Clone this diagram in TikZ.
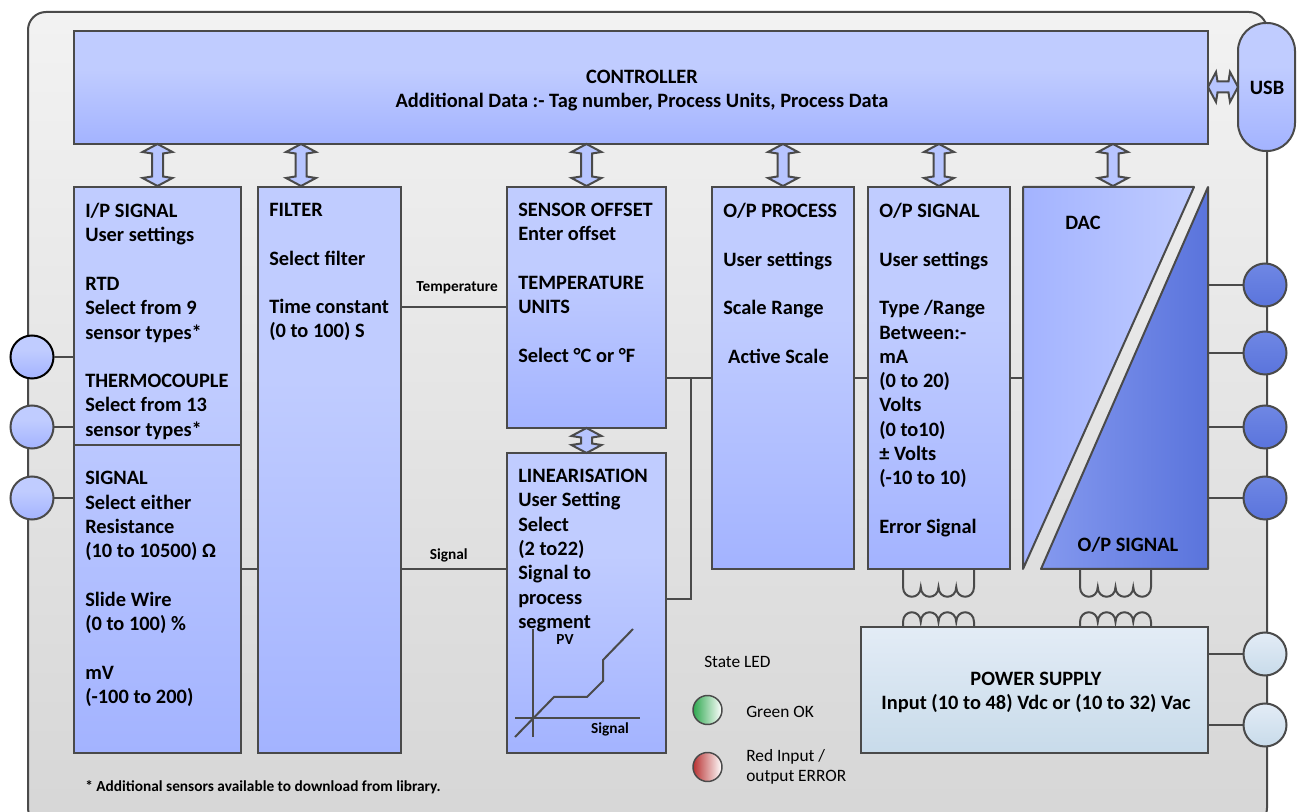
\documentclass[tikz,border=0pt]{standalone}
\usepackage{fontspec}
\setmainfont{Carlito}
\usetikzlibrary{positioning}
\definecolor{boxlo}{HTML}{A3B3FF}
\definecolor{boxhi}{HTML}{C0CCFF}
\definecolor{edge}{HTML}{4A4A4A}
\definecolor{darklo}{HTML}{5A74DC}
\definecolor{darkhi}{HTML}{6F87E4}
\definecolor{pwrhi}{HTML}{E3ECF6}
\definecolor{pwrlo}{HTML}{C8DBEA}
\definecolor{ledgreen}{HTML}{2EA84F}
\definecolor{ledred}{HTML}{B83232}
\pgfdeclareverticalshading{boxfade}{100bp}{color(0bp)=(boxlo); color(25bp)=(boxlo); color(58bp)=(boxhi); color(100bp)=(boxhi)}
\def\px{0.75pt}
\newcommand{\vlink}[2]{\draw[linkarrow] (#1) -- ++(15,8) -- ++(-9.5,1.5) -- ++(0,#2-19) -- ++(9.5,1.5) -- ++(-15,8) -- ++(-15,-8) -- ++(9.5,-1.5) -- ++(0,19-#2) -- ++(-9.5,-1.5) -- cycle;}
\newcommand{\hlink}[2]{\draw[linkarrow] (#1) -- ++(8,15) -- ++(1.5,-9.5) -- ++(#2-19,0) -- ++(1.5,9.5) -- ++(8,-15) -- ++(-8,-15) -- ++(-1.5,9.5) -- ++(19-#2,0) -- ++(-1.5,-9.5) -- cycle;}
\tikzset{
  x=\px, y=-\px,
  wire/.style={draw=edge, line width=1.5pt},
  box/.style={draw=edge, line width=1.5pt, shade, shading=boxfade, anchor=north west, inner sep=0pt, outer sep=0pt},
  sized/.style 2 args={minimum width=#1*\px, minimum height=#2*\px},
  boxtext/.style={font=\fontsize{15.3}{18.22}\selectfont\bfseries, align=left, inner sep=0pt, anchor=north west, text=black},
  smalltext/.style={font=\fontsize{11.5}{13}\selectfont\bfseries, inner sep=0pt, text=black},
  ledtext/.style={font=\fontsize{13}{15}\selectfont, align=left, inner sep=0pt, anchor=west, text=black},
  port/.style={circle, draw=edge, line width=1.5pt, shade, shading=boxfade, minimum size=43*\px, inner sep=0pt, outer sep=0pt},
  darkport/.style={port, shading=axis, top color=darkhi, bottom color=darklo},
  pwrport/.style={port, shading=axis, top color=pwrhi, bottom color=pwrlo},
  led/.style={circle, draw=edge, line width=1.1pt, minimum size=29*\px, inner sep=0pt, right color=white},
  linkarrow/.style={draw=edge, line width=1.5pt, fill=boxhi!70!boxlo, line join=miter},
  wedge/.style={draw=edge, line width=1.5pt, line join=round}
}
\begin{document}
\begin{tikzpicture}
  \useasboundingbox (0,0) rectangle (1297,812);
  \clip (0,0) rectangle (1297,812);
  \draw[draw=edge, line width=1.5pt, rounded corners=13.5pt, top color=black!5, bottom color=black!16] (28,12) rectangle (1267,826);

  % blocks
  \node[box, sized={1134}{113}] (ctrl) at (74,31) {};
  \node[box, sized={167}{566}] (ipsig) at (74,187) {};
  \node[box, sized={143}{566}] (filter) at (258,187) {};
  \node[box, sized={159}{241}] (offset) at (507,187) {};
  \node[box, sized={159}{300}] (linear) at (507,453) {};
  \node[box, sized={142}{382}] (process) at (712,187) {};
  \node[box, sized={142}{382}] (opsig) at (868,187) {};
  \node[box, sized={57}{128}, rounded corners=21pt, anchor=center] (usb) at (1266.5,87) {};
  \node[boxtext, anchor=center] (usbtxt) at (1267,88) {USB};
  \node[draw=edge, line width=1.5pt, anchor=north west, sized={347}{126}, inner sep=0pt, outer sep=0pt, top color=pwrhi, bottom color=pwrlo] (power) at (861,627) {};
  \draw[wire] (ipsig.west |- 0,445) -- (ipsig.east |- 0,445);

  % DAC and output wedge
  \coordinate (dacA) at (1023,187);
  \coordinate (dacB) at (1194,187);
  \coordinate (dacC) at (1023,569);
  \coordinate (outA) at (1208,187);
  \coordinate (outB) at (1208,569);
  \coordinate (outC) at (1041,569);
  \draw[wedge, left color=boxlo, right color=boxhi] (dacA) -- (dacB) -- (dacC) -- cycle;
  \draw[wedge, left color=darkhi!60!boxlo, right color=darklo] (outA) -- (outB) -- (outC) -- cycle;
  \node[boxtext, anchor=center] (dac) at (1083,223) {DAC};
  \node[boxtext, anchor=center] (outlbl) at (1128,545) {O/P SIGNAL};

  % block texts
  \node[boxtext, anchor=center, align=center] (ctrltxt) at (642,90.5) {CONTROLLER\\Additional Data :- Tag number, Process Units, Process Data};
  \node[boxtext, anchor=center, align=center] (powertxt) at (1036,692.5) {POWER SUPPLY\\Input (10 to 48) Vdc or (10 to 32) Vac};
  \node[boxtext] (ipsigtxt) at (85,203) {I/P SIGNAL\\User settings\\~\\RTD\\Select from 9\\sensor types*\\~\\THERMOCOUPLE\\Select from 13\\sensor types*\\~\\SIGNAL\\Select either\\Resistance\\(10 to 10500) Ω\\~\\Slide Wire\\(0 to 100) \%\\~\\mV\\(-100 to 200)};
  \node[boxtext] (filtertxt) at (269,203) {FILTER\\~\\Select filter\\~\\Time constant\\(0 to 100) S};
  \node[boxtext] (offsettxt) at (518,203) {SENSOR OFFSET\\Enter offset\\~\\TEMPERATURE\\UNITS\\~\\Select °C or °F};
  \node[boxtext] (lineartxt) at (518,469) {LINEARISATION\\User Setting\\Select\\(2 to22)\\Signal to\\process\\segment};
  \node[boxtext] (processtxt) at (723,203) {O/P PROCESS\\~\\User settings\\~\\Scale Range\\~\\\hspace{3.7pt}Active Scale};
  \node[boxtext] (opsigtxt) at (879,203) {O/P SIGNAL\\~\\User settings\\~\\Type /Range\\Between:-\\mA\\(0 to 20)\\Volts\\(0 to10)\\± Volts\\(-10 to 10)\\~\\Error Signal};

  % ports
  \node[port, draw=black] (inA) at (32,357) {};
  \node[port] (inB) at (32,427) {};
  \node[port] (inC) at (32,498) {};
  \node[darkport] (outPa) at (1265,285) {};
  \node[darkport] (outPb) at (1265,353) {};
  \node[darkport] (outPc) at (1265,427) {};
  \node[darkport] (outPd) at (1265,498) {};
  \node[pwrport] (pwrA) at (1265,654) {};
  \node[pwrport] (pwrB) at (1265,725) {};

  % connections
  \foreach \nm in {inA,inB,inC}
    \draw[wire] (\nm.east) -- (ipsig.west |- \nm);
  \foreach \nm in {outPa,outPb,outPc,outPd}
    \draw[wire] (outA |- \nm) -- (\nm.west);
  \foreach \nm in {pwrA,pwrB}
    \draw[wire] (power.east |- \nm) -- (\nm.west);
  \coordinate (jn) at (691,378);
  \coordinate (dacW) at (1023,378);
  \draw[wire] (ipsig.east |- 0,569) -- (filter.west |- 0,569);
  \draw[wire] (filter.east |- 0,307) -- node[smalltext, above=9pt, pos=.53] (templbl) {Temperature} (offset.west |- 0,307);
  \draw[wire] (filter.east |- 0,569) -- node[smalltext, above=4.5pt, pos=.45] (siglbl) {Signal} (linear.west |- 0,569);
  \draw[wire] (offset.east |- jn) -- (process.west |- jn);
  \draw[wire] (linear.east |- 0,599) -- (jn |- 0,599) -- (jn);
  \draw[wire] (process.east |- jn) -- (opsig.west |- jn);
  \draw[wire] (opsig.east |- jn) -- (dacW);

  % block arrows
  \coordinate (filterN) at (301,187);
  \coordinate (dacN) at (1113,187);
  \foreach \nm in {ipsig,offset,process,opsig}
    \vlink{ctrl.south -| \nm.north}{42};
  \vlink{ctrl.south -| filterN}{42}
  \vlink{ctrl.south -| dacN}{42}
  \vlink{offset.south}{25}
  \hlink{ctrl.east |- usb}{30}

  % transformers
  \coordinate (coilA) at (903,569);
  \coordinate (coilB) at (1080,569);
  \coordinate (coilC) at (903,627);
  \coordinate (coilD) at (1080,627);
  \foreach \nm in {coilA,coilB}
    \draw[wire] (\nm) -- ++(0,18) \foreach \i in {1,...,4}{ .. controls +(0,13) and +(0,13) .. ++(17.75,0)} -- ++(0,-18);
  \foreach \nm in {coilC,coilD}
    \draw[wire] (\nm) -- ++(0,-5) \foreach \i in {1,...,4}{ .. controls +(0,-13) and +(0,-13) .. ++(17.75,0)} -- ++(0,5);

  % PV chart
  \coordinate (pvT) at (533,629);
  \coordinate (pvB) at (533,737);
  \coordinate (sgL) at (515,718);
  \coordinate (sgR) at (640,718);
  \draw[wire] (pvT) -- (pvB);
  \draw[wire] (sgL) -- (sgR);
  \draw[wire] (515,737) -- (554,697) -- (587,697) -- (603,681) -- (603,660) -- (633,629);
  \node[smalltext] (pvlbl) at (565,640) {PV};
  \node[smalltext] (sglbl) at (610,729) {Signal};

  % state LEDs
  \node[ledtext] (ledhead) at (704,662) {State LED};
  \node[led, left color=ledgreen] (ledG) at (707.5,710) {};
  \node[led, left color=ledred] (ledR) at (707.5,767) {};
  \node[ledtext] (ledGtxt) at (746,712) {Green OK};
  \node[ledtext] (ledRtxt) at (746,767) {Red Input /\\output ERROR};

  \node[smalltext, anchor=west] (note) at (85,787) {* Additional sensors available to download from library.};
\end{tikzpicture}
\end{document}
